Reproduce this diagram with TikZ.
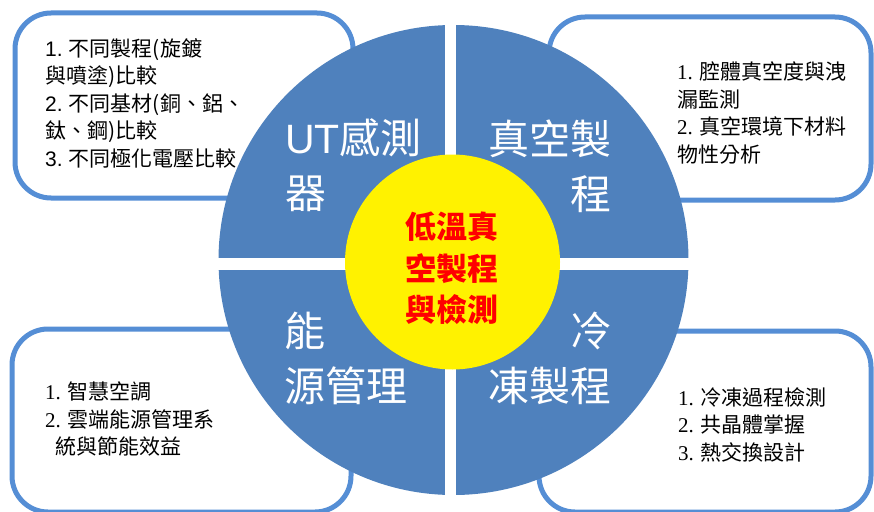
\documentclass[tikz,border=0pt]{standalone}
\usepackage{fontspec}
\setmainfont{Noto Sans CJK TC}
\newfontfamily\latinsans{Liberation Sans}
\newfontfamily\latinserif{Liberation Serif}
\definecolor{quadblue}{RGB}{79,129,189}
\definecolor{boxblue}{RGB}{85,142,213}
\tikzset{
	infobox/.style={draw=boxblue, line width=5pt, rounded corners=36pt, fill=white, inner sep=0pt},
	infotext/.style={font=\fontsize{21}{27.5}\selectfont, align=left, inner sep=0pt, text=black},
	quadtext/.style={font=\fontsize{41}{55}\selectfont, text=white, inner sep=0pt}
}

\begin{document}
\begin{tikzpicture}[x=1pt,y=-1pt]
	\useasboundingbox (0,0) rectangle (874,511);
	% rounded boxes behind the disc
	\node[infobox, minimum width=338pt, minimum height=185pt] (utbox) at (184,105.5) {};
	\node[infobox, minimum width=322pt, minimum height=183pt] (vacbox) at (710,108.5) {};
	\node[infobox, minimum width=339pt, minimum height=183pt] (energybox) at (181.5,420.5) {};
	\node[infobox, minimum width=332pt, minimum height=181pt] (freezebox) at (705,421.5) {};
	% disc with white cross
	\node[circle, fill=quadblue, minimum size=470pt, inner sep=0pt] (disc) at (453.5,260) {};
	\fill[white] (445,20) rectangle (456,500);
	\fill[white] (210,258) rectangle (700,270);
	\node[circle, fill=yellow, minimum size=215pt, inner sep=0pt] (hub) at (452.5,262) {};
	\node[font=\bfseries\fontsize{31}{41.5}\selectfont, text=red, align=center, inner sep=0pt] (hubtext) at (452,268.5) {低溫真\\空製程\\與檢測};
	% quadrant titles
	\node[quadtext, anchor=north west, align=left] (ut) at (285,118) {{\latinsans UT}感測\\器};
	\node[quadtext, anchor=north east, align=right] (vac) at (612,120) {真空製\\程};
	\node[quadtext, anchor=north west, align=left] (energy) at (284,312) {能\\源管理};
	\node[quadtext, anchor=north east, align=right] (freeze) at (612,312) {冷\\凍製程};
	% box texts
	\node[infotext, anchor=north west] (utlist) at (45,38) {{\latinsans 1.} 不同製程(旋鍍\\與噴塗)比較\\{\latinsans 2.} 不同基材(銅、鋁、\\鈦、鋼)比較\\{\latinsans 3.} 不同極化電壓比較};
	\node[infotext, anchor=north west] (vaclist) at (677,62) {{\latinserif 1.} 腔體真空度與洩\\漏監測\\{\latinserif 2.} 真空環境下材料\\物性分析};
	\node[infotext, anchor=north west] (energylist) at (45,382) {{\latinserif 1.} 智慧空調\\{\latinserif 2.} 雲端能源管理系\\\hspace*{10pt}統與節能效益};
	\node[infotext, anchor=north west] (freezelist) at (678,387) {{\latinserif 1.} 冷凍過程檢測\\{\latinserif 2.} 共晶體掌握\\{\latinserif 3.} 熱交換設計};
\end{tikzpicture}
\end{document}
